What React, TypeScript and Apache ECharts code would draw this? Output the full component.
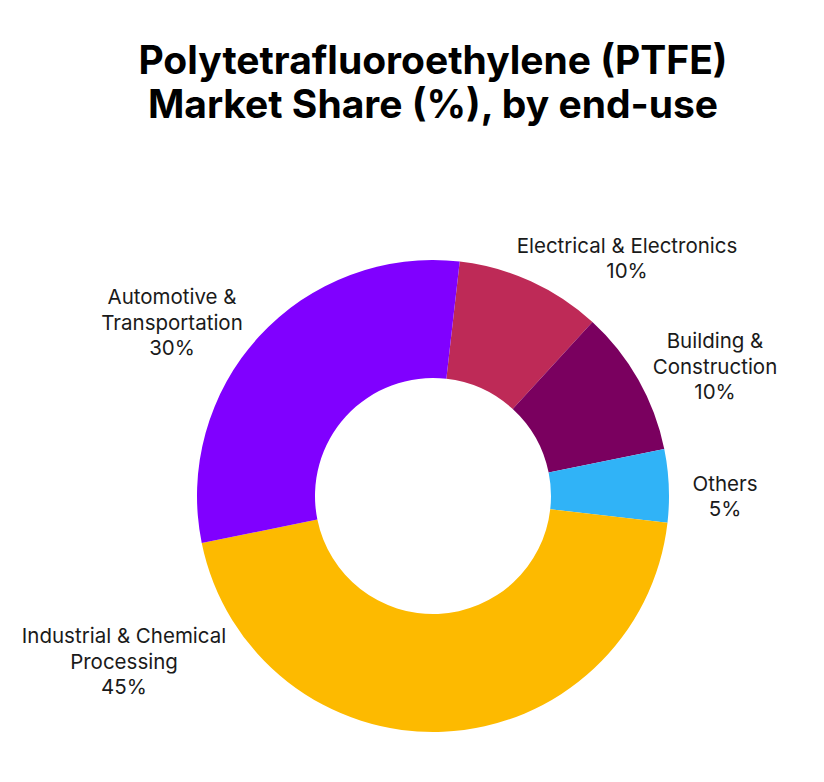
import React, { useEffect, useRef } from 'react'
import * as echarts from 'echarts'

const categories = [
  'Electrical & Electronics',
  'Building &\nConstruction',
  'Others',
  'Industrial & Chemical\nProcessing',
  'Automotive &\nTransportation',
]
const shares = [10, 10, 5, 45, 30]
const colors = ['#BE2A57', '#7A005F', '#30B3F7', '#FDBA00', '#8000FF']

// label centres, offset from the pie centre
const labelOffsets = [
  [194, -238],
  [282, -130],
  [292, 0],
  [-309, 165],
  [-261, -174],
]

const CX = 433
const CY = 496

const App: React.FC = () => {
  const chartRef = useRef<HTMLDivElement>(null)

  useEffect(() => {
    if (!chartRef.current) return
    const chart = echarts.init(chartRef.current, null, { renderer: 'svg' })
    chart.setOption({
      animation: false,
      backgroundColor: '#fff',
      graphic: [
        {
          type: 'text',
          x: CX,
          y: 81,
          style: {
            text: 'Polytetrafluoroethylene (PTFE)\nMarket Share (%), by end-use',
            align: 'center',
            verticalAlign: 'middle',
            fontFamily: 'Inter',
            fontWeight: 700,
            fontSize: 39,
            lineHeight: 44,
            fill: '#000',
          },
        },
      ],
      series: [
        {
          type: 'pie',
          center: [CX, CY],
          radius: [118, 236],
          startAngle: 83.5,
          clockwise: true,
          avoidLabelOverlap: false,
          data: categories.map((name, i) => ({
            name,
            value: shares[i],
            itemStyle: { color: colors[i] },
          })),
          label: {
            show: true,
            position: 'outside',
            formatter: '{b}\n{c}%',
            fontFamily: 'Inter',
            fontSize: 20.5,
            lineHeight: 25.5,
            color: '#1a1a1a',
            align: 'center',
          },
          labelLine: { show: false },
          labelLayout: (params: any) => {
            const [dx, dy] = labelOffsets[params.dataIndex]
            return {
              x: CX + dx,
              y: CY + dy,
              align: 'center',
              verticalAlign: 'middle',
            }
          },
          emphasis: { disabled: true },
        },
      ],
    })
    return () => {
      chart.dispose()
    }
  }, [])

  return (
    <div
      ref={chartRef}
      style={{ position: 'fixed', left: 0, top: 0, width: 824, height: 782 }}
    />
  )
}

export default App
